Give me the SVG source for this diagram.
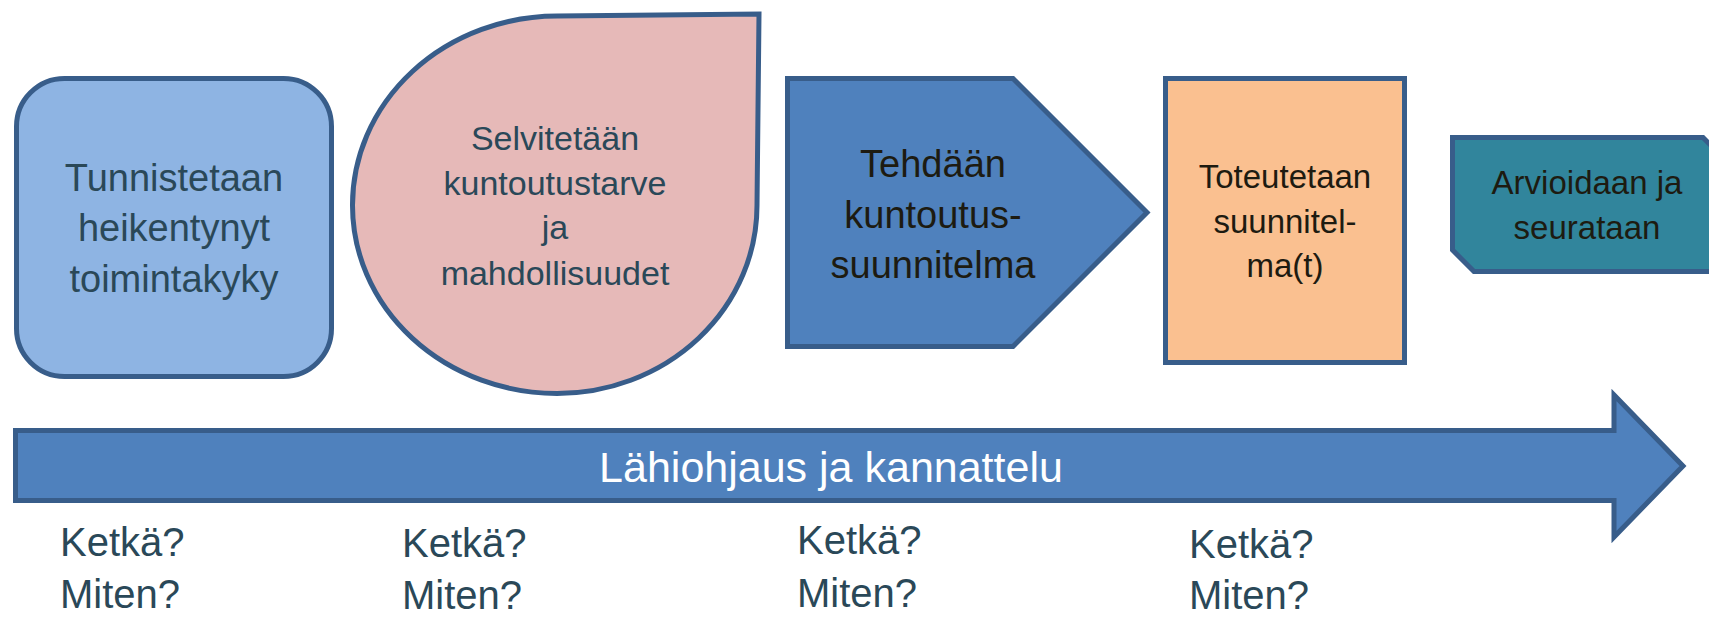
<svg xmlns="http://www.w3.org/2000/svg" width="1709" height="617" viewBox="0 0 1709 617">
<style>
  .shape { stroke: #385d8a; stroke-width: 5; stroke-linejoin: miter; }
  .t { font-family: "Liberation Sans", Arial, sans-serif; text-anchor: middle; }
  .slate { fill: #2a4858; }
  .dark { fill: #1d1b11; }
  .q { font-family: "Liberation Sans", Arial, sans-serif; font-size: 40px; fill: #2a4858; }
</style>
<rect width="1709" height="617" fill="#ffffff"/>
<g id="connectors">
  <g id="arrow-lahiohjaus">
    <path class="shape" fill="#4f81bd" d="M15.5,430.5 L1614,430.5 L1614,395 L1683,466 L1614,537 L1614,500.5 L15.5,500.5 Z"/>
    <text class="t" x="831" y="482" font-size="43" fill="#ffffff">Lähiohjaus ja kannattelu</text>
  </g>
</g>
<g id="node-tunnistetaan">
  <rect class="shape" fill="#8eb4e3" x="16.5" y="78.5" width="315" height="298" rx="48" ry="48"/>
  <text class="t slate" font-size="38" x="174" y="191">Tunnistetaan</text>
  <text class="t slate" font-size="38" x="174" y="241">heikentynyt</text>
  <text class="t slate" font-size="38" x="174" y="292">toimintakyky</text>
</g>
<g id="node-selvitetaan">
  <path class="shape" fill="#e6b9b8" d="M352.5,205 A205,189 0 0 1 557,16 L759,14 L757,205 A200,188 0 0 1 557,393.5 A205,188 0 0 1 352.5,205 Z"/>
  <text class="t slate" font-size="34" x="555" y="150">Selvitetään</text>
  <text class="t slate" font-size="34" x="555" y="195">kuntoutustarve</text>
  <text class="t slate" font-size="34" x="555" y="239">ja</text>
  <text class="t slate" font-size="34" x="555" y="285">mahdollisuudet</text>
</g>
<g id="node-tehdaan">
  <path class="shape" fill="#4f81bd" d="M787.5,78.5 L1013,78.5 L1147,212.5 L1013,346.5 L787.5,346.5 Z"/>
  <text class="t dark" font-size="38" x="933" y="177">Tehdään</text>
  <text class="t dark" font-size="38" x="933" y="228">kuntoutus-</text>
  <text class="t dark" font-size="38" x="933" y="278">suunnitelma</text>
</g>
<g id="node-toteutetaan">
  <rect class="shape" fill="#fac090" x="1165.5" y="78.5" width="239" height="284"/>
  <text class="t dark" font-size="33" x="1285" y="188">Toteutetaan</text>
  <text class="t dark" font-size="33" x="1285" y="233">suunnitel-</text>
  <text class="t dark" font-size="33" x="1285" y="277">ma(t)</text>
</g>
<g id="node-arvioidaan">
  <path class="shape" fill="#31859c" d="M1452.5,137.5 L1703,137.5 L1730,164.5 L1730,271.5 L1474,271.5 L1452.5,250 Z"/>
  <text class="t dark" font-size="33" x="1587" y="194">Arvioidaan ja</text>
  <text class="t dark" font-size="33" x="1587" y="239">seurataan</text>
</g>
<g id="questions">
  <text class="q" x="60" y="556">Ketkä?</text>
  <text class="q" x="60" y="608">Miten?</text>
  <text class="q" x="402" y="557">Ketkä?</text>
  <text class="q" x="402" y="609">Miten?</text>
  <text class="q" x="797" y="554">Ketkä?</text>
  <text class="q" x="797" y="607">Miten?</text>
  <text class="q" x="1189" y="558">Ketkä?</text>
  <text class="q" x="1189" y="609">Miten?</text>
</g>
</svg>
